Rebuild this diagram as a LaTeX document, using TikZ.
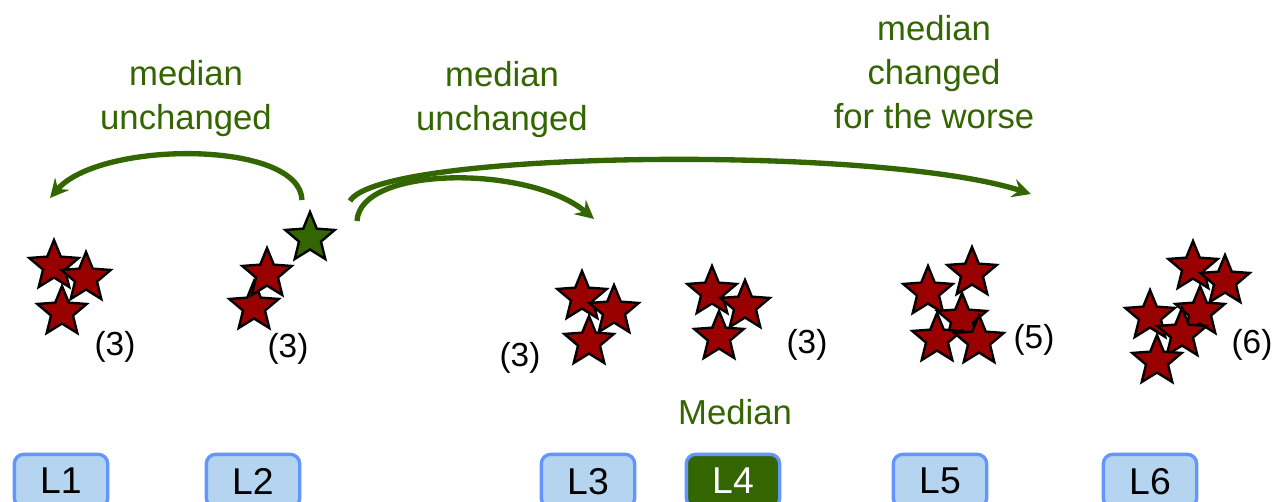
\documentclass[tikz,border=0pt]{standalone}
\usepackage{fontspec}
\setmainfont{Liberation Sans}
\usetikzlibrary{shapes.geometric,arrows.meta}
\definecolor{sred}{HTML}{990000}
\definecolor{sgreen}{HTML}{336600}
\definecolor{boxfill}{HTML}{B4D4F0}
\definecolor{boxline}{HTML}{6495FF}
\tikzset{
  rstar/.style={star,star points=5,star point ratio=2.25,minimum size=39pt,inner sep=0pt,draw=black,line width=1.8pt,fill=sred},
  gstar/.style={rstar,fill=sgreen},
  lbl/.style={text=sgreen,font=\fontsize{26}{33}\selectfont,align=center},
  cnt/.style={text=black,font=\fontsize{25}{30}\selectfont},
  lev/.style={rounded corners=7pt,draw=boxline,line width=2.5pt,fill=boxfill,minimum width=70pt,minimum height=40pt,font=\fontsize{28}{30}\selectfont,text depth=0pt},
  levm/.style={lev,fill=sgreen,text=white},
  arr/.style={draw=sgreen,line width=4pt,-{Stealth[length=14pt,width=14pt,inset=5pt]}}
}
\begin{document}
\begin{tikzpicture}[x=0.75pt,y=-0.75pt]
\path[use as bounding box,fill=white] (0,0) rectangle (1275,502);
% group 1
\node[rstar] (s11) at (54,266) {};
\node[rstar] (s13) at (62,312) {};
\node[rstar] (s12) at (86,278) {};
\node[cnt] (c1) at (115,347) {(3)};
% group 2
\node[gstar] (g) at (310,238) {};
\node[rstar] (s22) at (254,307) {};
\node[rstar] (s21) at (267,274) {};
\node[cnt] (c2) at (288,349) {(3)};
% group 3
\node[rstar] (s31) at (582,297) {};
\node[rstar] (s33) at (589,342) {};
\node[rstar] (s32) at (614,311) {};
\node[cnt] (c3) at (520,358) {(3)};
% group 4
\node[rstar] (s41) at (712,292) {};
\node[rstar] (s43) at (719,337) {};
\node[rstar] (s42) at (745,306) {};
\node[cnt] (c4) at (807,345) {(3)};
\node[lbl] (med) at (735,412) {Median};
% group 5
\node[rstar] (s51) at (972,273) {};
\node[rstar] (s52) at (928,292) {};
\node[rstar] (s53) at (962,319) {};
\node[rstar] (s54) at (937,339) {};
\node[rstar] (s55) at (979,341) {};
\node[cnt] (c5) at (1034,340) {(5)};
% group 6
\node[rstar] (s61) at (1193,267) {};
\node[rstar] (s62) at (1225,281) {};
\node[rstar] (s63) at (1150,316) {};
\node[rstar] (s64) at (1200,312) {};
\node[rstar] (s65) at (1182,334) {};
\node[rstar] (s66) at (1157,361) {};
\node[cnt] (c6) at (1252,345) {(6)};
% level boxes
\node[lev] (L1) at (61,481) {L1};
\node[lev] (L2) at (253,481) {L2};
\node[lev] (L3) at (588,481) {L3};
\node[levm] (L4) at (733,481) {L4};
\node[lev] (L5) at (940,481) {L5};
\node[lev] (L6) at (1150,481) {L6};
% labels
\node[lbl] (t1) at (186,99) {median\\unchanged};
\node[lbl] (t2) at (502,100) {median\\unchanged};
\node[lbl] (t3) at (934,72) {median\\changed\\for the worse};
% arrows
\coordinate (a1s) at (302,200);
\coordinate (a1e) at (50,198);
\coordinate (a2s) at (357,221);
\coordinate (a2e) at (594,219);
\coordinate (a3s) at (350,201);
\coordinate (a3e) at (1031,194);
\draw[arr] (a1s) .. controls (300,140) and (100,140) .. (a1e);
\draw[arr] (a2s) .. controls (360,165) and (530,165) .. (a2e);
\draw[arr] (a3s) .. controls (380,150) and (880,145) .. (a3e);
\end{tikzpicture}
\end{document}
